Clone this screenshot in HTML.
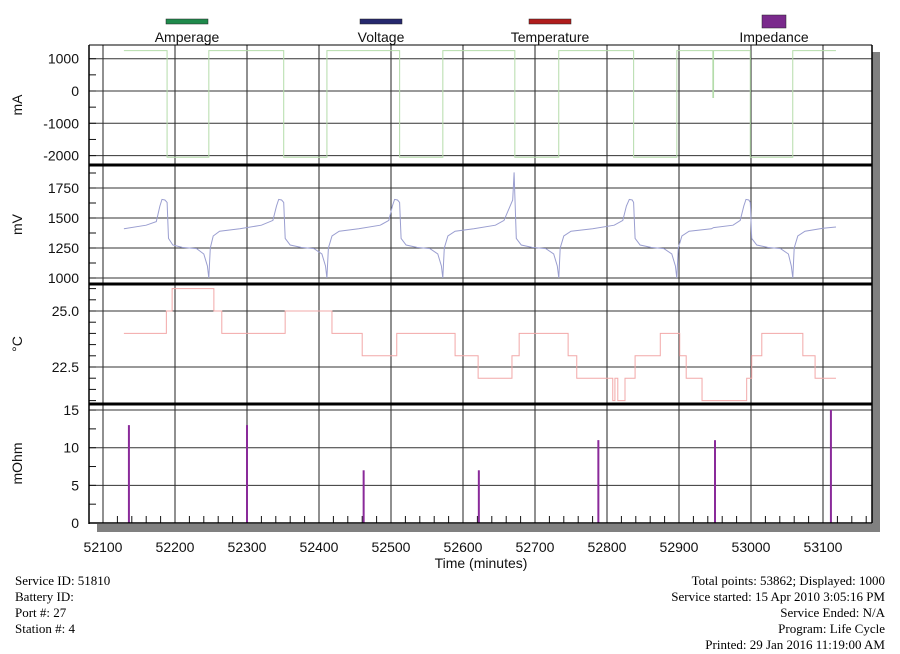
<!DOCTYPE html>
<html><head><meta charset="utf-8">
<style>
html,body{margin:0;padding:0;background:#fff;width:900px;height:654px;overflow:hidden}
svg text{font-family:"Liberation Sans",sans-serif}
.ft{font-family:"Liberation Serif",serif;font-size:13px;fill:#000}
</style></head>
<body>
<svg id="chart" width="900" height="654" viewBox="0 0 900 654" xmlns="http://www.w3.org/2000/svg">
</svg>
<script>
const xTicks=[52100,52200,52300,52400,52500,52600,52700,52800,52900,53000,53100];
const ampTicks=[1000,0,-1000,-2000];
const voltTicks=[1750,1500,1250,1000];
const tempTicks=[25.0,22.5];
const impTicks=[15,10,5,0];
const ampT=[52129,52189,52247,52351,52411,52512,52572,52672,52733,52837,52897,52947,52948,52999,53058,53118];
const ampV=[1250,-2050,1250,-2050,1250,-2050,1250,-2050,1250,-2050,1250,-200,1250,-2050,1250,1250];
const voltT=[52129,52160,52174,52179,52182,52186,52189,52191,52197,52210,52230,52240,52245,52247,
52249,52253,52262,52290,52320,52336,52341,52344,52348,52351,52353,52360,52375,52393,52404,52409,52411,
52413,52418,52428,52455,52485,52497,52502,52505,52509,52512,52514,52521,52536,52554,52565,52570,52572,
52574,52579,52589,52615,52645,52657,52664,52669,52671,52672,52674,52681,52696,52715,52726,52731,52733,
52735,52740,52750,52780,52810,52822,52827,52831,52835,52837,52839,52846,52861,52879,52890,52895,52897,
52899,52904,52914,52945,52948,52975,52985,52990,52993,52997,52999,53001,53008,53023,53041,53052,53056,53058,
53060,53065,53075,53100,53118];
const voltV=[1410,1440,1470,1600,1655,1650,1630,1330,1275,1255,1245,1200,1100,1000,
1250,1350,1390,1410,1440,1480,1600,1655,1650,1630,1330,1275,1255,1245,1200,1100,1000,
1250,1350,1390,1410,1440,1480,1600,1655,1650,1630,1330,1275,1255,1245,1200,1100,1000,
1250,1350,1390,1410,1440,1480,1580,1650,1880,1700,1330,1275,1255,1245,1200,1100,1000,
1250,1350,1390,1410,1440,1480,1600,1655,1650,1630,1330,1275,1255,1245,1200,1100,1000,
1250,1350,1390,1410,1420,1440,1480,1600,1655,1650,1630,1330,1275,1255,1245,1200,1100,1000,
1250,1350,1390,1415,1425];
const tempT=[52129,52188,52196,52254,52265,52353,52418,52460,52508,52589,52621,52668,52678,52746,52758,52808,52811,52815,52825,52839,52874,52901,52910,52932,52994,53001,53015,53072,53089,53118];
const tempV=[24,25,26,25,24,25,24,23,24,23,22,23,24,23,22,21,22,21,22,23,24,23,22,21,22,23,24,23,22,22];
const impT=[52136,52300,52462,52622,52788,52950,53111];
const impV=[13,13,7,7,11,11,15];

const NS="http://www.w3.org/2000/svg";
const svg=document.getElementById('chart');
const L=89,R=872,T=45,B=523;
const X=t=>103+(t-52100)*0.72;
const yAmp=v=>91-v*0.0323;
const yVolt=v=>278-(v-1000)*0.12;
const yTemp=v=>311-(v-25)*22.4;
const yImp=v=>523-v*7.53;
function el(tag,attrs,parent){const e=document.createElementNS(NS,tag);for(const k in attrs)e.setAttribute(k,attrs[k]);(parent||svg).appendChild(e);return e;}
function txt(s,x,y,attrs){const e=el('text',Object.assign({x:x,y:y},attrs));e.textContent=s;return e;}

let sh=el('rect',{x:R,y:52,width:8,height:480,fill:'#808080'});


sh=el('rect',{x:97,y:B+1,width:R+8-97,height:8,fill:'#808080'});



xTicks.forEach(t=>{
  const g=el('line',{x1:X(t),x2:X(t),y1:T,y2:B,stroke:'#222','stroke-width':1});
  
  
  const lb=txt(String(t),X(t),552,{'text-anchor':'middle','font-size':14,fill:'#111'});
  
  
});
for(let t=52020;t<53180;t+=20){
  if(t%100===0||X(t)<L||X(t)>R)continue;
  const k=el('line',{x1:X(t),x2:X(t),y1:B-7,y2:B,stroke:'#111','stroke-width':1});
  
  
}

function panel(name,ticks,yf,minorStep,fmt,unit,top,bot){
  ticks.forEach(v=>{
    const g=el('line',{x1:L,x2:R,y1:yf(v),y2:yf(v),stroke:'#333','stroke-width':1});
    
    
    const lb=txt(fmt(v),79,yf(v)+5,{'text-anchor':'end','font-size':14,fill:'#111'});
    
    
  });
  const lo=Math.min(...ticks)-minorStep*10;
  for(let v=lo;v<=Math.max(...ticks)+minorStep*10;v+=minorStep){
    const y=yf(v);if(y<=top+2||y>=bot-1)continue;
    const k=el('line',{x1:L,x2:L+7,y1:y,y2:y,stroke:'#111','stroke-width':1});
    
    
  }
  const cy=(top+bot)/2;
  const u=txt(unit,22,cy,{'text-anchor':'middle','font-size':14,fill:'#111',transform:`rotate(-90 22 ${cy})`});
  
  
}
panel('amperage',ampTicks,yAmp,500,v=>String(v),'mA',45,165);
panel('voltage',voltTicks,yVolt,125,v=>String(v),'mV',165,284);
panel('temperature',tempTicks,yTemp,0.5,v=>v.toFixed(1),'°C',284,404);
panel('impedance',impTicks,yImp,2.5,v=>String(v),'mOhm',404,523);

function stepPath(ts,vs,yf){let d=`M${X(ts[0])},${yf(vs[0])}`;for(let i=1;i<ts.length;i++){d+=` H${X(ts[i])} V${yf(vs[i])}`;}return d;}
let p=el('path',{d:stepPath(ampT,ampV,yAmp),fill:'none',stroke:'#b4dcaa','stroke-width':1});


let vd='';voltT.forEach((t,i)=>{vd+=(i?' L':'M')+X(t).toFixed(1)+','+yVolt(voltV[i]).toFixed(1);});
p=el('path',{d:vd,fill:'none',stroke:'#9a9ed0','stroke-width':1});


p=el('path',{d:stepPath(tempT,tempV,yTemp),fill:'none',stroke:'#f2a8a8','stroke-width':1});


impT.forEach((t,i)=>{
  const b=el('line',{x1:X(t),x2:X(t),y1:yImp(impV[i]),y2:B,stroke:'#8a2a9a','stroke-width':2});
  
  
});

[[L,T,L,B+1,1.5],[L,T,R,T,1],[R,T,R,B,1.5],[L,B,R,B,1.5],[L,165,R,165,3],[L,284,R,284,3],[L,404,R,404,3]].forEach(a=>{
  const f=el('line',{x1:a[0],y1:a[1],x2:a[2],y2:a[3],stroke:'#000','stroke-width':a[4]});
  
  
});

[['Amperage','#1f8a4c',187,42,5],['Voltage','#26286e',381,42,5],['Temperature','#b01c1c',550,42,5],['Impedance','#7a2a8c',774,24,13]].forEach(l=>{
  const g=el('g',{});
  
  
  el('rect',{x:l[2]-l[3]/2,y:l[4]>6?15:19,width:l[3],height:l[4],fill:l[1],stroke:'#222','stroke-width':0.5},g);
  const t=el('text',{x:l[2],y:42,'text-anchor':'middle','font-size':14,fill:'#111'},g);t.textContent=l[0];
});

let xt=txt('Time (minutes)',481,568,{'text-anchor':'middle','font-size':14,fill:'#111'});



['Service ID: 51810','Battery ID:','Port #: 27','Station #: 4'].forEach((s,i)=>{
  const t=txt(s,15,585+i*16,{class:'ft'});
  
  
});
['Total points: 53862; Displayed: 1000','Service started: 15 Apr 2010 3:05:16 PM','Service Ended: N/A','Program: Life Cycle','Printed: 29 Jan 2016 11:19:00 AM'].forEach((s,i)=>{
  const t=txt(s,885,585+i*16,{class:'ft','text-anchor':'end'});
  
  
});
</script>
</body></html>
